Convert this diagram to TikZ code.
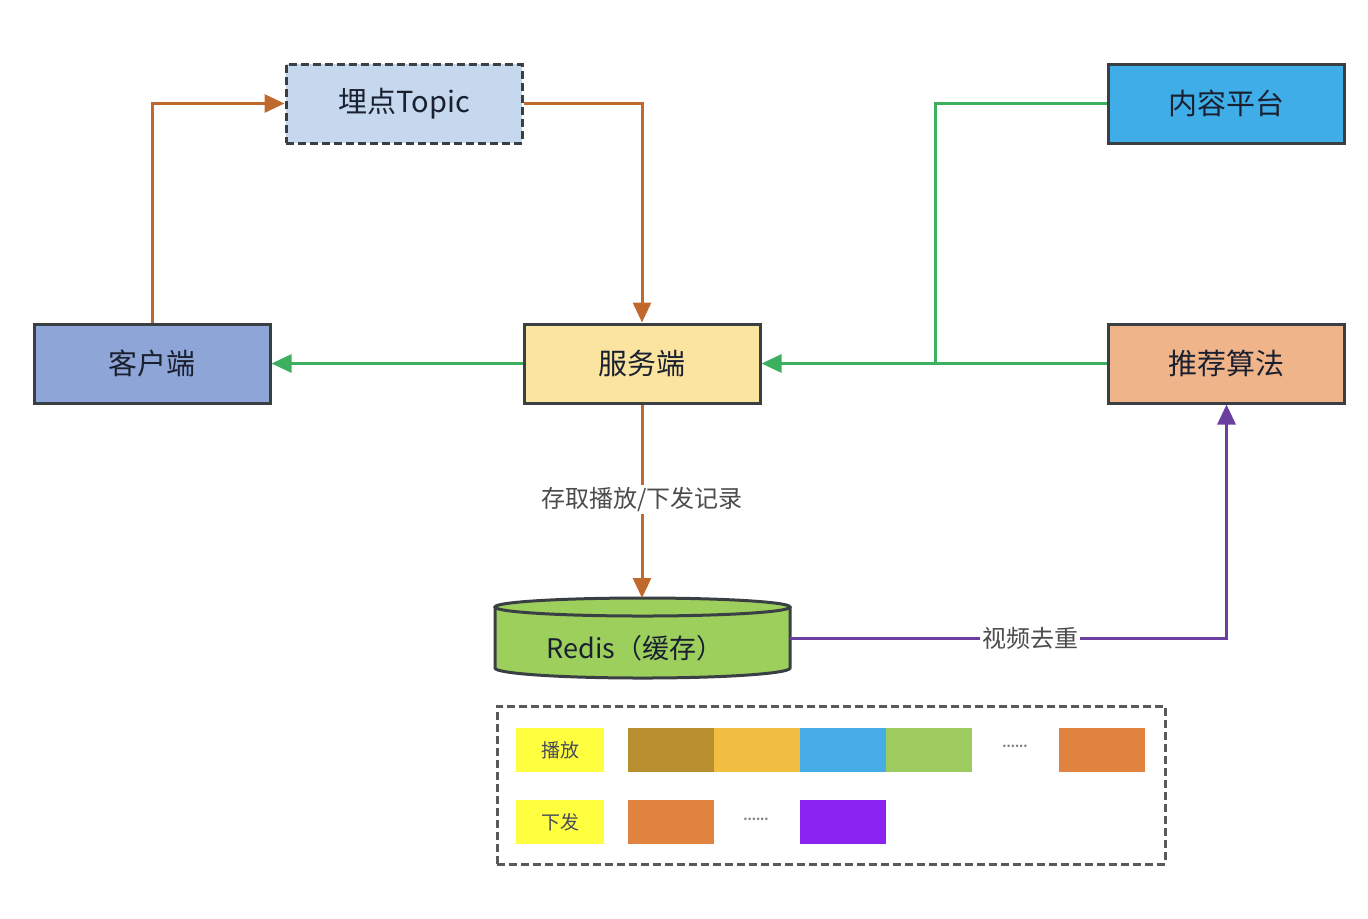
\documentclass[tikz,border=0pt]{standalone}
\usepackage{fontspec}
\setmainfont{Noto Sans CJK SC}
\usetikzlibrary{arrows.meta,positioning}
\definecolor{topicfill}{HTML}{C5D8EE}
\definecolor{contentfill}{HTML}{3FAEE8}
\definecolor{clientfill}{HTML}{8EA5D7}
\definecolor{serverfill}{HTML}{FBE4A0}
\definecolor{algofill}{HTML}{EFB48A}
\definecolor{redisfill}{HTML}{9CCF5C}
\definecolor{bordercol}{HTML}{3A3F44}
\definecolor{orangeline}{HTML}{C0692C}
\definecolor{greenline}{HTML}{3DB060}
\definecolor{purpleline}{HTML}{6A3FA0}
\definecolor{txtcol}{HTML}{1A2030}
\definecolor{blkolive}{HTML}{B88F2E}
\definecolor{blkyellow}{HTML}{F2BE41}
\definecolor{blkblue}{HTML}{45ACE6}
\definecolor{blkgreen}{HTML}{9DCB5F}
\definecolor{blkorange}{HTML}{E0833F}
\definecolor{blkpurple}{HTML}{8A22F0}
\definecolor{lblyellow}{HTML}{FFFF40}
\begin{document}
\begin{tikzpicture}[x=0.5pt,y=-0.5pt,
  mainbox/.style={draw=bordercol,line width=1.5pt,minimum width=118pt,minimum height=39.5pt,inner sep=0pt,font=\fontsize{14.5}{16}\selectfont,text=txtcol},
  conn/.style={line width=1.5pt,-{Triangle[length=10pt,width=9pt]}},
  plainconn/.style={line width=1.5pt},
  blk/.style={minimum width=43pt,minimum height=22pt,inner sep=0pt},
  lbl/.style={fill=lblyellow,minimum width=44pt,minimum height=22pt,inner sep=0pt,font=\fontsize{9.5}{11}\selectfont,text=txtcol!80},
  dots/.style={font=\fontsize{6}{8}\selectfont,text=gray},
  edgelabel/.style={fill=white,inner sep=1pt,font=\fontsize{12}{14}\selectfont,text=black!70}
]
\useasboundingbox (0,0) rectangle (1368,918);
% boxes
\node[mainbox,fill=topicfill,dashed,dash pattern=on 4pt off 2pt] (topic) at (404,103.5) {埋点Topic};
\node[mainbox,fill=contentfill] (content) at (1226.5,103.5) {内容平台};
\node[mainbox,fill=clientfill] (client) at (152,363.5) {客户端};
\node[mainbox,fill=serverfill] (server) at (642,363.5) {服务端};
\node[mainbox,fill=algofill] (algo) at (1226.5,363.5) {推荐算法};
% redis cylinder
\node[minimum width=147.5pt,minimum height=40pt,inner sep=0pt] (redis) at (642,638) {};
\fill[redisfill] (495,607) -- (495,668) arc[start angle=180,end angle=0,x radius=147.5,y radius=10] -- (790,607) arc[start angle=0,end angle=-180,x radius=147.5,y radius=9];
\draw[bordercol,line width=1.5pt] (495,607) -- (495,668) arc[start angle=180,end angle=0,x radius=147.5,y radius=10] -- (790,607);
\draw[bordercol,line width=1.5pt] (642.5,607) ellipse[x radius=147.5,y radius=9];
\node[font=\fontsize{13.5}{15}\selectfont,text=txtcol] (redistext) at (635,648) {Redis（缓存）};
% connectors
\coordinate (c1) at (152,103.5);
\draw[conn,orangeline] (client.north -| c1) -- (c1) -- (topic.west);
\coordinate (c2) at (642,103.5);
\draw[conn,orangeline] (topic.east) -- (c2) -- (server.north);
\draw[conn,greenline] (server.west) -- (client.east);
\draw[conn,greenline] (algo.west) -- (server.east);
\coordinate (c3) at (935,103.5);
\coordinate (c4) at (935,363.5);
\draw[plainconn,greenline] (content.west) -- (c3) -- (c4);
\coordinate (rtop) at (642,598);
\draw[conn,orangeline] (server.south) -- node[edgelabel,pos=0.49]{存取播放/下发记录} (rtop);
\coordinate (c5) at (1226.5,638);
\coordinate (rright) at (790,638);
\draw[conn,purpleline] (rright) -- node[edgelabel,pos=0.55]{视频去重} (c5) -- (algo.south);
% legend
\node[draw=gray!70!black,dashed,line width=1.5pt,dash pattern=on 4pt off 2pt,minimum width=334pt,minimum height=79pt,inner sep=0pt] (legend) at (831,785) {};
\node[lbl] (play) at (560,750) {播放};
\node[blk,fill=blkolive] (p1) at (671,750) {};
\node[blk,fill=blkyellow] (p2) at (757,750) {};
\node[blk,fill=blkblue] (p3) at (843,750) {};
\node[blk,fill=blkgreen] (p4) at (929,750) {};
\node[dots] (pd) at (1015,746) {\textbf{......}};
\node[blk,fill=blkorange] (p5) at (1102,750) {};
\node[lbl] (send) at (560,822) {下发};
\node[blk,fill=blkorange] (s1) at (671,822) {};
\node[dots] (sd) at (756,819) {\textbf{......}};
\node[blk,fill=blkpurple] (s2) at (843,822) {};
\end{tikzpicture}
\end{document}
